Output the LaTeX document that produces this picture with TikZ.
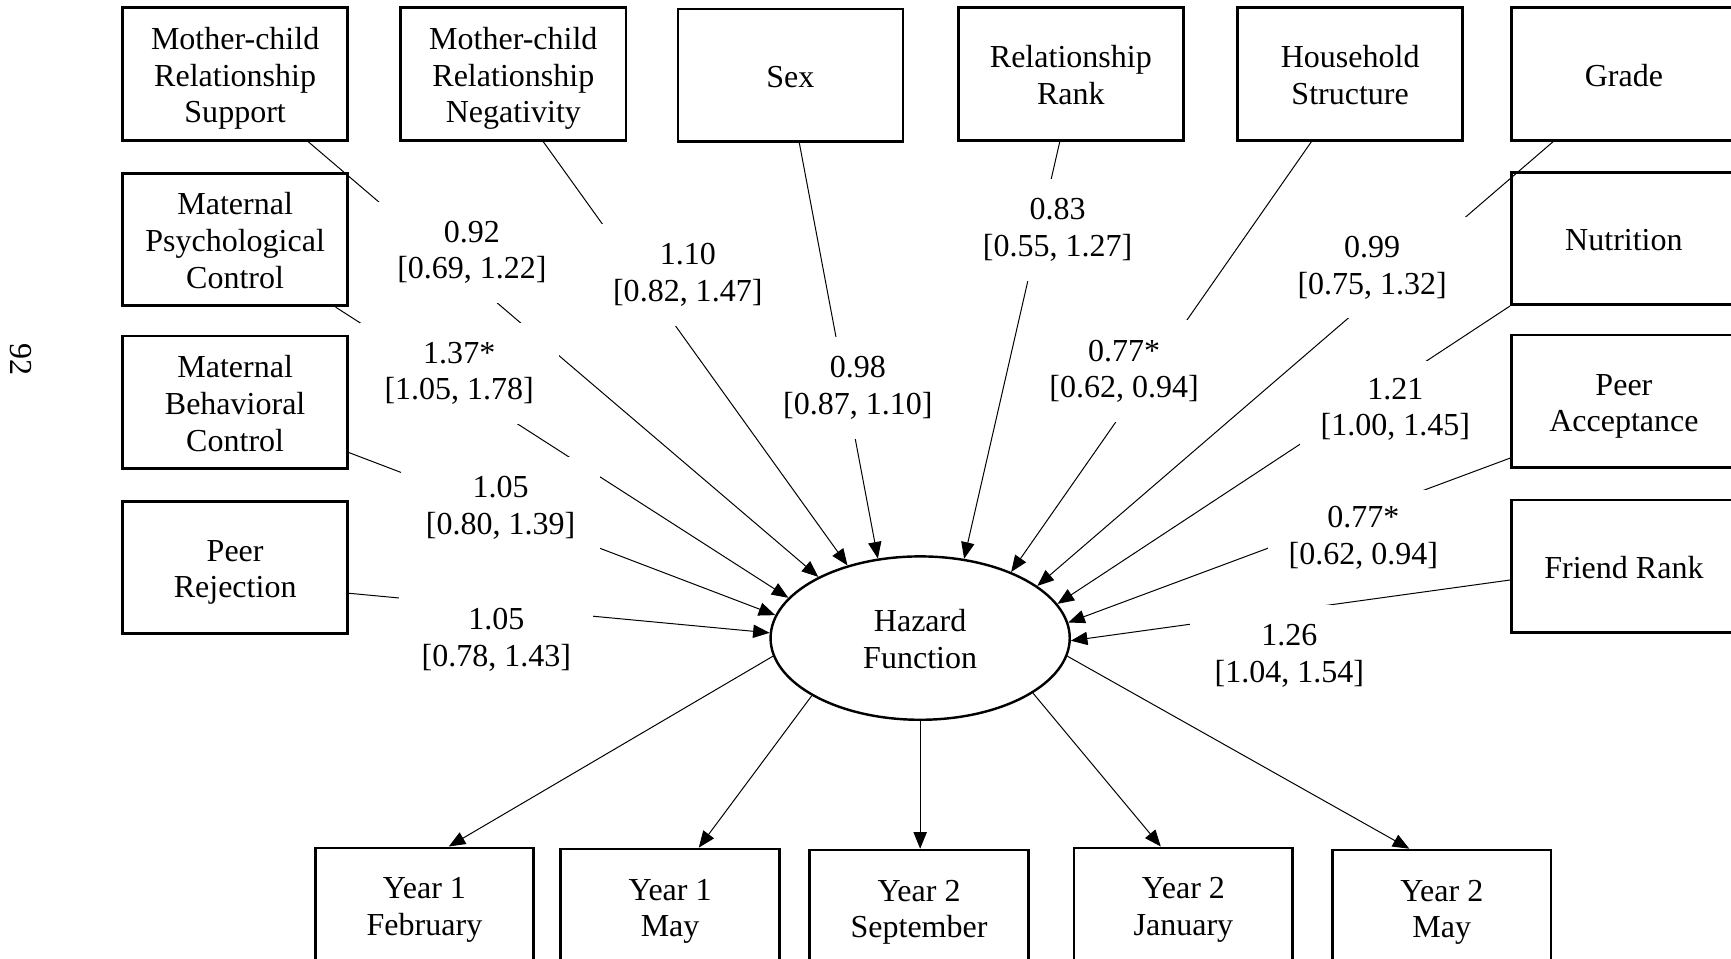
\documentclass[tikz,border=0pt]{standalone}
\usepackage{fontspec}
\setmainfont{Liberation Serif}
\usetikzlibrary{arrows.meta,calc,shapes.geometric}
\newcommand{\oddsci}[2]{#1\\{}[#2]}
\newcommand{\ftop}{\rule{0pt}{10.9pt}}
\begin{document}
\begin{tikzpicture}[x=0.5pt,y=-0.5pt,
  font=\fontsize{14.5pt}{16.6pt}\selectfont,
  var/.style={draw,line width=1.2pt,minimum width=102pt,minimum height=60pt,inner sep=0pt,align=center},
  occ/.style={draw,line width=1.2pt,minimum width=99pt,minimum height=52pt,inner sep=0pt,align=center},
  haz/.style={draw,ellipse,line width=1.1pt,minimum width=135.5pt,minimum height=74pt,inner sep=0pt,align=center},
  lab/.style={fill=white,inner sep=0pt,minimum width=90pt,minimum height=46pt,align=center},
  conn/.style={line width=0.45pt,-{Triangle[length=7.5pt,width=6pt]}}]
\useasboundingbox (0,0) rectangle (1568,868);
\fill[white] (0,0) rectangle (1568,868);
\clip (0,0) rectangle (1568,868);

\node[rotate=-90] (pg) at (19,326) {92};

% predictor boxes
\node[var] (mcrs) at (213,67) {\ftop Mother-child\\Relationship\\\smash{Support}};
\node[var] (mcrn) at (465,67) {\ftop Mother-child\\Relationship\\\smash{Negativity}};
\node[var] (sex) at (716,68) {\ftop\smash{Sex}};
\node[var] (rr) at (970,67) {\ftop Relationship\\\smash{Rank}};
\node[var] (hs) at (1223,67) {\ftop Household\\\smash{Structure}};
\node[var] (grade) at (1471,67) {\ftop\smash{Grade}};
\node[var] (mpc) at (213,217) {\ftop Maternal\\Psychological\\\smash{Control}};
\node[var] (mbc) at (213,364.5) {\ftop Maternal\\Behavioral\\\smash{Control}};
\node[var] (pr) at (213,514) {\ftop Peer\\\smash{Rejection}};
\node[var] (nut) at (1471,216) {\ftop\smash{Nutrition}};
\node[var] (pa) at (1471,363.5) {\ftop Peer\\\smash{Acceptance}};
\node[var] (fr) at (1471,513) {\ftop\smash{Friend Rank}};

% hazard
\node[haz] (hazard) at (833.5,578) {\ftop Hazard\\\smash{Function}};

% occasions
\node[occ] (y1f) at (384.5,820) {\ftop\smash{Year 1}\\\smash{February}};
\node[occ] (y1m) at (607,821) {\ftop\smash{Year 1}\\\smash{May}};
\node[occ] (y2s) at (832.5,822) {\ftop\smash{Year 2}\\\smash{September}};
\node[occ] (y2j) at (1072,820) {\ftop\smash{Year 2}\\\smash{January}};
\node[occ] (y2m) at (1306,822) {\ftop\smash{Year 2}\\\smash{May}};

% incoming connectors
\draw[conn] ($(mcrs.south)+(66,0)$) -- (hazard.149.4);
\draw[conn] ($(mcrn.south)+(27,0)$) -- (hazard.135.8);
\draw[conn] ($(sex.south)+(8,0)$) -- (hazard.118);
\draw[conn] ($(rr.south)+(-10,0)$) -- (hazard.61.4);
\draw[conn] ($(hs.south)+(-35,0)$) -- (hazard.36.7);
\draw[conn] ($(grade.south)+(-64,0)$) -- (hazard.24.2);
\draw[conn] ($(mpc.south)+(91,0)$) -- (hazard.163.3);
\draw[conn] ($(mbc.east)+(0,45.5)$) -- (hazard.171.9);
\draw[conn] ($(pr.east)+(0,23.4)$) -- (hazard.178.2);
\draw[conn] (nut.south west) -- (hazard.14.9);
\draw[conn] ($(pa.west)+(0,51.5)$) -- (hazard.6.8);
\draw[conn] ($(fr.west)+(0,12.4)$) -- (hazard.-1.9);

% outgoing connectors
\draw[conn] (hazard.187.6) -- ($(y1f.north)+(22,0)$);
\draw[conn] (hazard.208.8) -- ($(y1m.north)+(26,0)$);
\draw[conn] (hazard.south) -- (hazard.south |- y2s.north);
\draw[conn] (hazard.-26.1) -- ($(y2j.north)+(-20.5,0)$);
\draw[conn] (hazard.-7.2) -- ($(y2m.north)+(-29.4,0)$);

% labels (white boxes interrupt the connectors)
\node[lab] (l092) at (427.5,228.7) {\oddsci{0.92}{0.69, 1.22}};
\node[lab] (l110) at (623,249.1) {\oddsci{1.10}{0.82, 1.47}};
\node[lab] (l098) at (777,351.3) {\oddsci{0.98}{0.87, 1.10}};
\node[lab] (l083) at (958,208.1) {\oddsci{0.83}{0.55, 1.27}};
\node[lab] (l077a) at (1018.3,336.3) {\oddsci{0.77*}{0.62, 0.94}};
\node[lab] (l099) at (1243,242.3) {\oddsci{0.99}{0.75, 1.32}};
\node[lab] (l137) at (416,338.3) {\oddsci{1.37*}{1.05, 1.78}};
\node[lab,minimum width=86pt,minimum height=44pt] (l121) at (1264,370.7) {\oddsci{1.21}{1.00, 1.45}};
\node[lab] (l105a) at (453.4,459.7) {\oddsci{1.05}{0.80, 1.39}};
\node[lab,minimum width=86pt,minimum height=43pt] (l077b) at (1235,486.9) {\oddsci{0.77*}{0.62, 0.94}};
\node[lab,minimum width=88pt] (l105b) at (449.6,579.8) {\oddsci{1.05}{0.78, 1.43}};
\node[lab] (l126) at (1168,594.3) {\oddsci{1.26}{1.04, 1.54}};
\end{tikzpicture}
\end{document}
